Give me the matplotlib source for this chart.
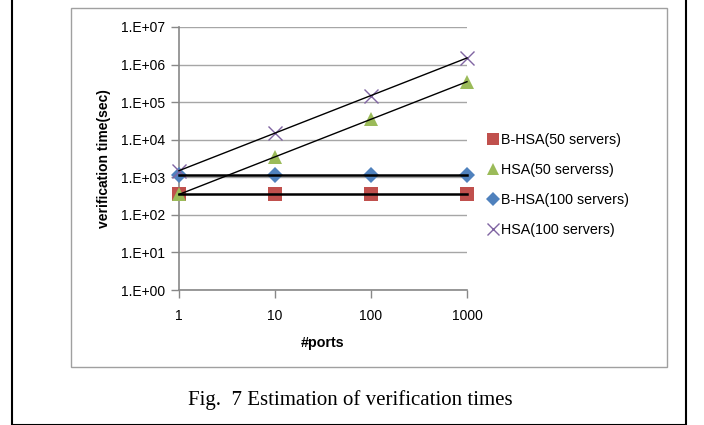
import matplotlib
matplotlib.use("Agg")
import matplotlib.pyplot as plt
from matplotlib.lines import Line2D
from matplotlib.patches import Rectangle

ports = [1, 10, 100, 1000]
bhsa50 = [360, 360, 360, 360]
hsa50 = [350, 3500, 35000, 350000]
bhsa100 = [1150, 1150, 1150, 1150]
hsa100 = [1500, 15000, 150000, 1500000]
labels = ["B-HSA(50 servers)", "HSA(50 serverss)", "B-HSA(100 servers)", "HSA(100 servers)"]
yticks = [1, 10, 100, 1e3, 1e4, 1e5, 1e6, 1e7]
ytick_labels = ["1.E+00", "1.E+01", "1.E+02", "1.E+03", "1.E+04", "1.E+05", "1.E+06", "1.E+07"]

font = "Liberation Sans"
fig = plt.figure(figsize=(7.04, 4.25), dpi=100)

# outer frame and inner chart box
fig.add_artist(Rectangle((12/704, 0.5/425), (686-12)/704, 1.2, transform=fig.transFigure,
                         fill=False, edgecolor="black", linewidth=1.5))
fig.add_artist(Rectangle((71/704, 1-367/425), (667-71)/704, (367-8)/425, transform=fig.transFigure,
                         fill=False, edgecolor="#a0a0a0", linewidth=1.0))

ax = fig.add_axes([179/704, 1-290/425, (467-179)/704, (290-27)/425])
ax.set_xscale("log")
ax.set_yscale("log")
ax.set_xlim(1, 1000)
ax.set_ylim(1, 1e7)

series = [
    (bhsa50, "s", "#C0504D", 10, 1.8),
    (hsa50, "^", "#9BBB59", 10, 1.0),
    (bhsa100, "D", "#4F81BD", 8, 1.8),
    (hsa100, "x", "#8064A2", 10, 1.0),
]
handles = []
for (vals, m, c, ms, lw), lab in zip(series, labels):
    if m == "x":
        ax.plot(ports, vals, linestyle="none", marker=m, color=c, markersize=ms,
                markeredgewidth=1.0, clip_on=False, zorder=3)
    else:
        ax.plot(ports, vals, linestyle="none", marker=m, color=c, markersize=ms,
                markeredgewidth=0, clip_on=False, zorder=3)
    ax.plot(ports, vals, color="black", linewidth=lw, zorder=4, clip_on=False)
    if m == "x":
        handles.append(Line2D([], [], linestyle="none", marker=m, color=c, markersize=ms - 1, markeredgewidth=1.0))
    else:
        handles.append(Line2D([], [], linestyle="none", marker=m, color=c, markersize=ms - 1, markeredgewidth=0))

ax.set_yticks(yticks)
ax.set_yticklabels(ytick_labels, fontfamily=font, fontsize=10)
ax.set_xticks(ports)
ax.set_xticklabels([str(p) for p in ports], fontfamily=font, fontsize=10)
ax.minorticks_off()
ax.grid(axis="y", color="#a6a6a6", linewidth=1.0)
ax.set_axisbelow(True)
for s in ["top", "right"]:
    ax.spines[s].set_visible(False)
for s in ["left", "bottom"]:
    ax.spines[s].set_color("#888888")
    ax.spines[s].set_linewidth(1.2)
ax.tick_params(axis="both", direction="out", color="#888888", length=6, width=1.0, pad=4)
ax.tick_params(axis="x", pad=8)

ax.set_ylabel("verification time(sec)", fontfamily=font, fontsize=10, fontweight="bold", labelpad=7)
ax.set_xlabel("#ports", fontfamily=font, fontsize=10.3, fontweight="bold", labelpad=9)

leg = fig.legend(handles=handles, labels=labels, loc="upper left",
                 bbox_to_anchor=(486/704, 1-133/425), frameon=False,
                 prop={"family": font, "size": 10.3}, handletextpad=0.05,
                 handlelength=1.0, labelspacing=1.12, borderaxespad=0, borderpad=0)

fig.text(350/704, 1-400/425, "Fig.  7 Estimation of verification times", ha="center", va="center",
         fontfamily="Liberation Serif", fontsize=15)

fig.savefig("out.png", dpi=100)
